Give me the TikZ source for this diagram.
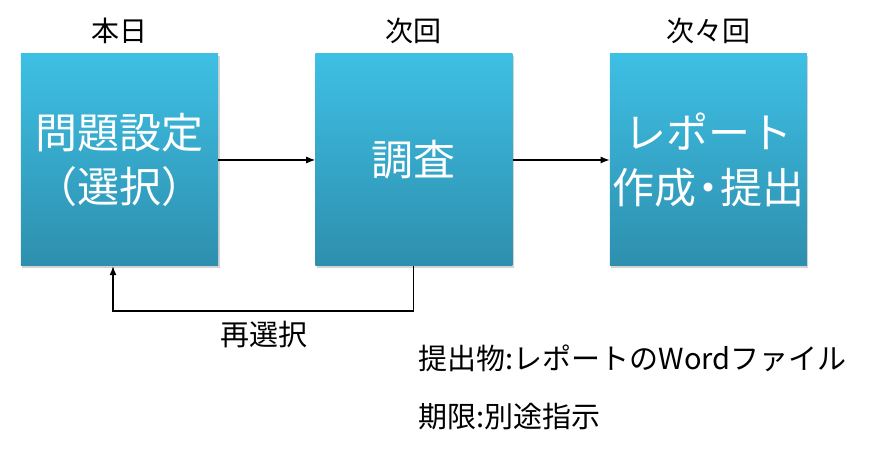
\documentclass[tikz,border=0pt]{standalone}
\usepackage{fontspec}
\setmainfont{Noto Sans CJK JP}
\usepackage{xcolor}
\usetikzlibrary{arrows.meta,positioning,shadows}

\definecolor{boxtop}{HTML}{3EBFE4}
\definecolor{boxbottom}{HTML}{2E8FAE}

\tikzset{
  stagebox/.style={minimum width=197bp, minimum height=212bp, inner sep=0pt,
    top color=boxtop, bottom color=boxbottom, text=white, align=center,
    font=\fontsize{42bp}{54bp}\selectfont,
    drop shadow={shadow xshift=1.5bp, shadow yshift=-2bp, opacity=0.35}},
  daylabel/.style={font=\fontsize{28bp}{32bp}\selectfont},
  flow/.style={line width=1.1bp, -{Latex[length=9bp,width=7bp]}}
}

\begin{document}
\begin{tikzpicture}[x=1bp,y=-1bp]
\useasboundingbox (0,0) rectangle (874,453);

% Stages
\node[stagebox] (setup) at (119.5,160) {問題設定\\（選択）};
\node[stagebox, right=97bp of setup] (survey) {調査};
\node[stagebox, right=97bp of survey] (report) {レポート\\作成\kern-9bp・\kern-9bp提出};

% Day labels
\node[daylabel, above=7bp of setup] (today) {本日};
\node[daylabel, above=7bp of survey] (next) {次回};
\node[daylabel, above=7bp of report] (after) {次々回};

% Flow
\draw[flow] (setup) -- (survey);
\draw[flow] (survey) -- (report);

% Back to setup
\coordinate (back) at ([xshift=-6.5bp]setup.south);
\coordinate (turn) at (0,311);
\draw[flow] (survey.south) |- (turn -| back) -- (back);
\node[daylabel, font=\fontsize{29bp}{34bp}\selectfont] (again) at (264,335) {再選択};

% Notes
\node[anchor=west, font=\fontsize{29bp}{34bp}\selectfont] (deliver) at (415,358) {提出物:レポートのWordファイル};
\node[anchor=west, font=\fontsize{29bp}{34bp}\selectfont] (deadline) at (415,417) {期限:別途指示};
\end{tikzpicture}
\end{document}
